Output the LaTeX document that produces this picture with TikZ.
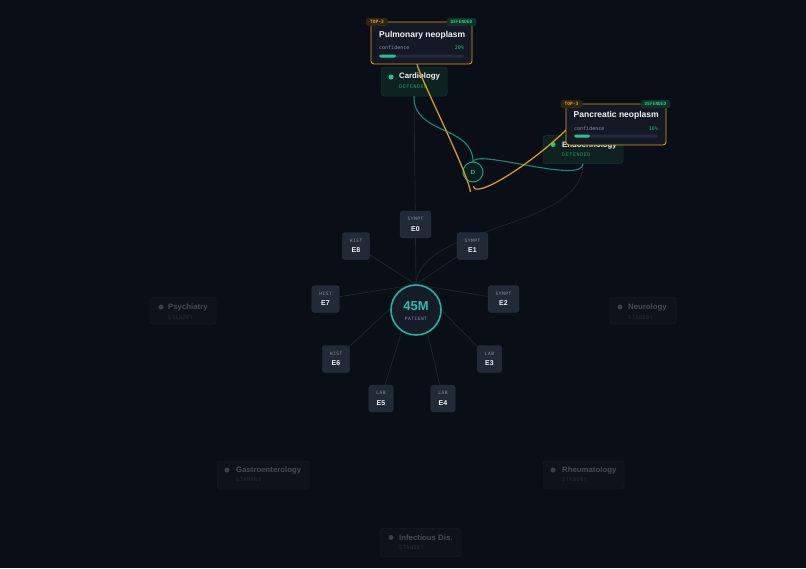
\documentclass[tikz,border=0pt]{standalone}
\usepackage{fontspec}
\setmainfont{Liberation Sans}
\newfontfamily\monof{DejaVu Sans Mono}
\newfontfamily\monosp[LetterSpace=12]{DejaVu Sans Mono}
\usetikzlibrary{calc}
\definecolor{bg}{HTML}{0A0E16}
\definecolor{evfill}{HTML}{222937}
\definecolor{evborder}{HTML}{2C3442}
\definecolor{evsm}{HTML}{8B93A3}
\definecolor{edgec}{HTML}{20252F}
\definecolor{pfill}{HTML}{151B27}
\definecolor{pteal}{HTML}{1CB5A3}
\definecolor{tealtxt}{HTML}{2BC0AA}
\definecolor{tline}{HTML}{178C76}
\definecolor{yline}{HTML}{D49A22}
\definecolor{yborder}{HTML}{D4A021}
\definecolor{cardfill}{HTML}{141925}
\definecolor{okgreen}{HTML}{22C58B}
\definecolor{defgreen}{HTML}{1B9A70}
\definecolor{track}{HTML}{242B3B}
\definecolor{deptfill}{HTML}{0E221F}
\definecolor{deptborder}{HTML}{163630}
\definecolor{fdfill}{HTML}{0E121A}
\definecolor{fdborder}{HTML}{171C26}
\definecolor{fdtext}{HTML}{474C57}
\definecolor{fdsub}{HTML}{2A2F38}
\definecolor{fddot}{HTML}{3A3F4A}
\definecolor{toptagfill}{HTML}{2E2612}
\definecolor{toptagtxt}{HTML}{E0A520}
\definecolor{deftagfill}{HTML}{0F3226}
\definecolor{dfill}{HTML}{0B1E1C}
\definecolor{dstroke}{HTML}{1EA088}
\definecolor{cardtxt}{HTML}{F1F3F6}
\definecolor{conftxt}{HTML}{8A92A2}
\tikzset{
  ev/.style={rectangle, rounded corners=3pt, fill=evfill, draw=evborder, line width=0.4pt,
    minimum height=27pt, inner xsep=7.5pt, inner ysep=0pt, font=\monosp\fontsize{4.5}{5}\selectfont},
  evk/.style={inner sep=0pt, text=evsm, font=\monosp\fontsize{4.5}{5}\selectfont},
  evn/.style={inner sep=0pt, text=cardtxt, font=\bfseries\fontsize{7}{8}\selectfont},
  gedge/.style={draw=edgec, line width=0.7pt},
  tedge/.style={draw=tline, line width=1.1pt},
  yedge/.style={draw=yline, line width=1.3pt},
  deptbox/.style={rectangle, rounded corners=3pt, fill=deptfill, draw=deptborder, line width=0.5pt, inner sep=0pt},
  fdbox/.style={rectangle, rounded corners=3pt, fill=fdfill, draw=fdborder, line width=0.5pt, inner sep=0pt},
  deptname/.style={anchor=west, inner sep=0pt, text=cardtxt, font=\bfseries\fontsize{7.8}{8}\selectfont},
  fdname/.style={anchor=west, inner sep=0pt, text=fdtext, font=\bfseries\fontsize{7.8}{8}\selectfont},
  defsub/.style={anchor=west, inner sep=0pt, text=defgreen, font=\monosp\fontsize{5}{6}\selectfont},
  fdsubst/.style={anchor=west, inner sep=0pt, text=fdsub, font=\monosp\fontsize{5}{6}\selectfont},
  cardbox/.style={rectangle, rounded corners=3pt, fill=cardfill, draw=yborder, line width=0.9pt, inner sep=0pt},
  toptag/.style={rectangle, rounded corners=1.5pt, fill=toptagfill, text=toptagtxt, inner xsep=4pt, inner ysep=2.2pt, font=\monof\bfseries\fontsize{4.5}{5}\selectfont},
  deftag/.style={rectangle, rounded corners=1.5pt, fill=deftagfill, text=okgreen, inner xsep=4pt, inner ysep=2.2pt, font=\monof\bfseries\fontsize{4.5}{5}\selectfont},
  cardtitle/.style={anchor=west, inner sep=0pt, text=cardtxt, font=\bfseries\fontsize{8.5}{9}\selectfont},
  conf/.style={anchor=west, inner sep=0pt, text=conftxt, font=\monof\fontsize{5}{6}\selectfont},
  pct/.style={anchor=east, inner sep=0pt, text=okgreen, font=\monof\fontsize{5}{6}\selectfont},
}
\newcommand\evnode[5]{%
  \node[ev] (#1) at (#2,#3) {\phantom{#4}};
  \node[evk] (#1k) at (#2,#3-5.5) {#4};
  \node[evn] (#1n) at (#2,#3+4.5) {#5};
}
\begin{document}
\begin{tikzpicture}[x=1pt,y=-1pt]
\fill[bg] (0,0) rectangle (806,568);
\useasboundingbox (0,0) rectangle (806,568);

% patient and department base nodes (positions)
\node[circle, minimum size=50pt, inner sep=0pt] (patpos) at (416,310) {};
\coordinate (ptop) at (416,284.5);
\node[deptbox, minimum width=66pt, minimum height=29pt] (cardio) at (414,81.5) {};
\node[deptbox, minimum width=80pt, minimum height=28pt] (endo) at (583,149.5) {};

% gray edges
\draw[gedge] (ptop) -- (cardio.south);
\draw[gedge] (ptop) .. controls (418,225) and (583,230) .. (endo.south);
\foreach \x/\y in {356/246, 472.5/246, 325.5/299, 503.5/299, 336/359, 489.5/359, 381/398.5, 443/398.5}
  \draw[gedge] (ptop) -- (\x,\y);

% evidence nodes
\evnode{e0}{415.5}{224.5}{SYMPT}{E0}
\evnode{e8}{356}{246}{HIST}{E8}
\evnode{e1}{472.5}{246}{SYMPT}{E1}
\evnode{e7}{325.5}{299}{HIST}{E7}
\evnode{e2}{503.5}{299}{SYMPT}{E2}
\evnode{e6}{336}{359}{HIST}{E6}
\evnode{e3}{489.5}{359}{LAB}{E3}
\evnode{e5}{381}{398.5}{LAB}{E5}
\evnode{e4}{443}{398.5}{LAB}{E4}

% patient
\node[circle, minimum size=50pt, inner sep=0pt, draw=pteal, line width=1.6pt, fill=pfill] (pat) at (416,310) {};
\node[inner sep=0pt, text=tealtxt, font=\bfseries\fontsize{13}{14}\selectfont] (patname) at (416,306.5) {45M};
\node[inner sep=0pt, text=evsm, font=\monosp\fontsize{4.5}{5}\selectfont] (patsub) at (416,319) {PATIENT};

% faded departments
\node[fdbox, minimum width=66pt, minimum height=27pt] (psy) at (183,310.5) {};
\fill[fddot] (161,307) circle (2.5pt);
\node[fdname] (psyn) at (168,307) {Psychiatry};
\node[fdsubst] (psys) at (168,317.5) {STANDBY};

\node[fdbox, minimum width=66pt, minimum height=27pt] (neu) at (643,310.5) {};
\fill[fddot] (620,307) circle (2.5pt);
\node[fdname] (neun) at (628,307) {Neurology};
\node[fdsubst] (neus) at (628,317.5) {STANDBY};

\node[fdbox, minimum width=92pt, minimum height=28pt] (gas) at (263,475) {};
\fill[fddot] (227,470) circle (2.5pt);
\node[fdname] (gasn) at (236,470) {Gastroenterology};
\node[fdsubst] (gass) at (236,480) {STANDBY};

\node[fdbox, minimum width=81pt, minimum height=28pt] (rhe) at (583.5,475) {};
\fill[fddot] (553,470) circle (2.5pt);
\node[fdname] (rhen) at (562,470) {Rheumatology};
\node[fdsubst] (rhes) at (562,480) {STANDBY};

\node[fdbox, minimum width=81pt, minimum height=28pt] (inf) at (420.5,542.5) {};
\fill[fddot] (391,537.5) circle (2.5pt);
\node[fdname] (infn) at (399,537.5) {Infectious Dis.};
\node[fdsubst] (infs) at (399,547.5) {STANDBY};

% defended departments text
\fill[okgreen] (391,77) circle (2.5pt);
\node[deptname] (cardion) at (399,76.5) {Cardiology};
\node[defsub] (cardios) at (399,86.5) {DEFENDED};
\fill[okgreen] (553,144.5) circle (2.5pt);
\node[deptname] (endon) at (562,145) {Endocrinology};
\node[defsub] (endos) at (562,155) {DEFENDED};

% teal edges and D node
\coordinate (dtop) at (473,162);
\draw[tedge] (cardio.south) .. controls (413,135) and (473,125) .. (dtop);
\draw[tedge] (dtop) .. controls (475,148) and (583,185) .. (endo.south);
\node[circle, minimum size=20pt, inner sep=0pt, draw=dstroke, line width=1pt, fill=dfill, text=tealtxt, font=\bfseries\fontsize{6}{6}\selectfont] (dnode) at (473,172) {D};

% yellow edges
\coordinate (ya) at (470.5,192);
\coordinate (yb) at (473.5,186);
\draw[yedge] (417,64) .. controls (419,76) and (467,170) .. (ya);
\draw[yedge] (yb) .. controls (474,200) and (530,165) .. (566,130);

% pulmonary card
\node[cardbox, minimum width=101pt, minimum height=42pt] (pulm) at (421.5,43) {};
\node[toptag] (pulmtop) at (377,22) {TOP-3};
\node[deftag] (pulmdef) at (461.5,22) {DEFENDED};
\node[cardtitle] (pulmt) at (379,35) {Pulmonary neoplasm};
\node[conf] (pulmc) at (379,48) {confidence};
\node[pct] (pulmp) at (464,48) {20\%};
\fill[track, rounded corners=1.5pt] (379,54.5) rectangle (464,57.5);
\fill[okgreen, rounded corners=1.5pt] (379,54.5) rectangle (396,57.5);

% pancreatic card
\node[cardbox, minimum width=100pt, minimum height=41pt] (panc) at (616,124.5) {};
\node[toptag] (panctop) at (571.5,104) {TOP-3};
\node[deftag] (pancdef) at (655.5,104) {DEFENDED};
\node[cardtitle] (panct) at (573.5,115.5) {Pancreatic neoplasm};
\node[conf] (pancc) at (574,129) {confidence};
\node[pct] (pancp) at (658,129) {16\%};
\fill[track, rounded corners=1.5pt] (574,134.5) rectangle (658,137.5);
\fill[okgreen, rounded corners=1.5pt] (574,134.5) rectangle (590,137.5);
\end{tikzpicture}
\end{document}
